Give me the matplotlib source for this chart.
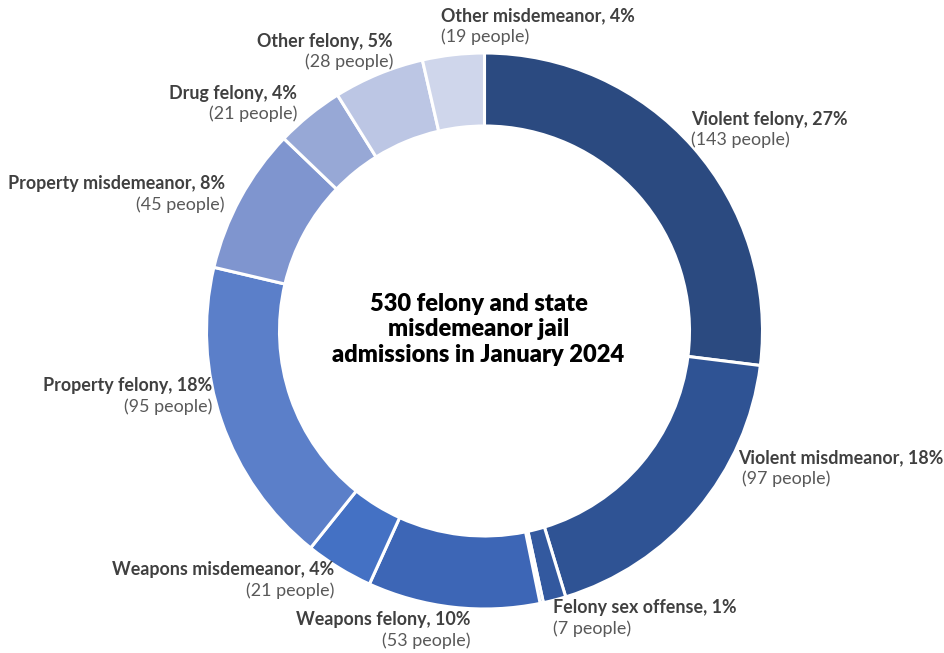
import matplotlib
matplotlib.use("Agg")
import matplotlib.pyplot as plt

categories = ["Violent felony", "Violent misdmeanor", "Felony sex offense", "Sex misdemeanor",
              "Weapons felony", "Weapons misdemeanor", "Property felony", "Property misdemeanor",
              "Drug felony", "Other felony", "Other misdemeanor"]
people = [143, 97, 7, 1, 53, 21, 95, 45, 21, 28, 19]
percents = ["27%", "18%", "1%", "", "10%", "4%", "18%", "8%", "4%", "5%", "4%"]
colors = ["#2B4A80", "#2F5394", "#33599F", "#3860AA", "#3D66B6", "#4471C4",
          "#5B7FC9", "#7F95CF", "#97A8D6", "#BCC6E4", "#CFD6EB"]
center_title = "530 felony and state\nmisdemeanor jail\nadmissions in January 2024"

W, H = 945, 653
fig = plt.figure(figsize=(W / 100, H / 100), dpi=100)
ax = fig.add_axes([0, 0, 1, 1])
cx, cy, R, ring = 484.5, H - 331, 278, 73
ax.pie(people, colors=colors, startangle=90, counterclock=False, center=(cx, cy), radius=R,
       wedgeprops=dict(width=ring, edgecolor="white", linewidth=2.2), frame=False)
ax.set_xlim(0, W)
ax.set_ylim(0, H)
ax.set_aspect("equal")
ax.axis("off")

FONT = "Lato"
# label placement: (x_px, y_px_top_line, alignment)
label_pos = {
    "Violent felony": (691, 119, "left"),
    "Violent misdmeanor": (738, 458, "left"),
    "Felony sex offense": (553, 608, "left"),
    "Weapons felony": (471, 620, "right"),
    "Weapons misdemeanor": (334, 570, "right"),
    "Property felony": (212, 386, "right"),
    "Property misdemeanor": (225, 184, "right"),
    "Drug felony": (297, 93, "right"),
    "Other felony": (393, 41, "right"),
    "Other misdemeanor": (441, 16, "left"),
}
for cat, n, pct in zip(categories, people, percents):
    if cat not in label_pos:
        continue
    x, y, ha = label_pos[cat]
    ax.text(x, H - y, f"{cat}, {pct}", ha=ha, va="center", fontsize=12.9,
            fontweight="bold", color="#404040", family=FONT)
    ax.text(x + (4 if cat == "Violent misdmeanor" else 0), H - (y + 21), f"({n} people)",
            ha=ha, va="center", fontsize=12.9, color="#595959", family=FONT)

ax.text(478.5, H - 329.5, center_title, ha="center", va="center", fontsize=17,
        fontweight="heavy", color="black", family=FONT, linespacing=1.21)

fig.savefig("out.png", dpi=100, facecolor="white")
